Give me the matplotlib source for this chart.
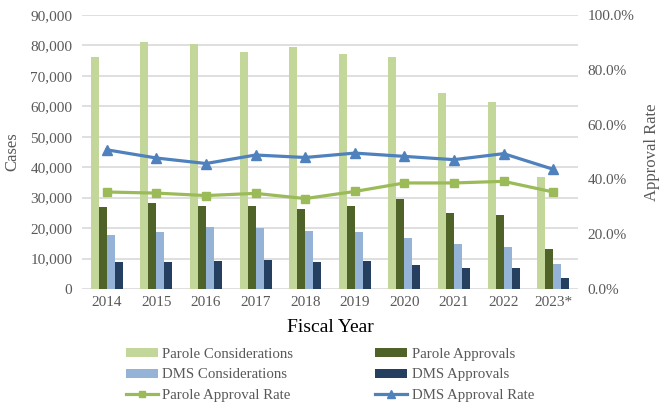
import matplotlib.pyplot as plt
import numpy as np
from matplotlib.ticker import FuncFormatter

years = ["2014", "2015", "2016", "2017", "2018", "2019", "2020", "2021", "2022", "2023*"]
parole_considerations = [76100, 81000, 80500, 77900, 79500, 77200, 76200, 64300, 61400, 36800]
parole_approvals = [26900, 28300, 27400, 27300, 26200, 27400, 29500, 24900, 24200, 13100]
dms_considerations = [17800, 18800, 20400, 19900, 18900, 18700, 16800, 14700, 13900, 8100]
dms_approvals = [8900, 8900, 9200, 9600, 9000, 9200, 7900, 6900, 6900, 3500]
parole_rate = [35.4, 35.0, 34.1, 34.9, 33.0, 35.6, 38.7, 38.7, 39.3, 35.4]
dms_rate = [50.8, 47.8, 45.8, 48.9, 48.0, 49.6, 48.4, 47.2, 49.4, 43.7]

plt.rcParams['font.family'] = ['Liberation Serif', 'DejaVu Serif']
grey = "#595959"

fig = plt.figure(figsize=(6.65, 4.08), dpi=100)
ax = fig.add_axes([82/665, 119/408, 496/665, 274/408])
ax2 = ax.twinx()

x = np.arange(len(years))
w = 0.161
b1 = ax.bar(x - 1.5*w, parole_considerations, w, color="#C4D79B", zorder=2)
b2 = ax.bar(x - 0.5*w, parole_approvals, w, color="#4F6228", zorder=2)
b3 = ax.bar(x + 0.5*w, dms_considerations, w, color="#95B3D7", zorder=2)
b4 = ax.bar(x + 1.5*w, dms_approvals, w, color="#243F60", zorder=2)

l1, = ax2.plot(x, parole_rate, color="#9BBB59", lw=2.3, marker="s", ms=6)
l2, = ax2.plot(x, dms_rate, color="#4F81BD", lw=2.3, marker="^", ms=7)

ax.set_xlim(-0.5, len(years) - 0.5)
ax.set_ylim(0, 90000)
ax.set_yticks(np.arange(0, 90001, 10000))
ax.yaxis.set_major_formatter(FuncFormatter(lambda v, p: f"{int(v):,}"))
ax2.set_ylim(0, 100)
ax2.set_yticks(np.arange(0, 101, 20))
ax2.yaxis.set_major_formatter(FuncFormatter(lambda v, p: f"{v:.1f}%"))

ax.set_xticks(x)
ax.set_xticklabels(years)
ax.grid(axis="y", color="#D9D9D9", lw=1.2, zorder=0)
ax.set_axisbelow(True)

for a in (ax, ax2):
    for s in ("top", "left", "right", "bottom"):
        a.spines[s].set_visible(False)
    a.tick_params(length=0, labelsize=11, labelcolor=grey)
ax.tick_params(axis="y", pad=7)
ax.tick_params(axis="x", pad=5)
ax2.tick_params(axis="y", pad=7)

ax.set_ylabel("Cases", fontsize=12, color=grey, labelpad=7)
ax2.set_ylabel("Approval Rate", fontsize=12, color=grey, labelpad=7)
ax.set_xlabel("Fiscal Year", fontsize=14, color="black", labelpad=7)

# legend: 3 rows x 2 columns, filled column by column
handles = [b1, b3, l1, b2, b4, l2]
labels = ["Parole Considerations", "DMS Considerations", "Parole Approval Rate",
          "Parole Approvals", "DMS Approvals", "DMS Approval Rate"]
fig.legend(handles, labels, ncol=2, loc="upper left", bbox_to_anchor=(126/665, 1 - 348/408),
           frameon=False, fontsize=10.7, labelcolor=grey, columnspacing=5.5,
           handlelength=2.15, handleheight=0.55, handletextpad=0.3, labelspacing=0.5,
           markerscale=0.75, borderaxespad=0, borderpad=0)

fig.savefig("out.png", dpi=100)
